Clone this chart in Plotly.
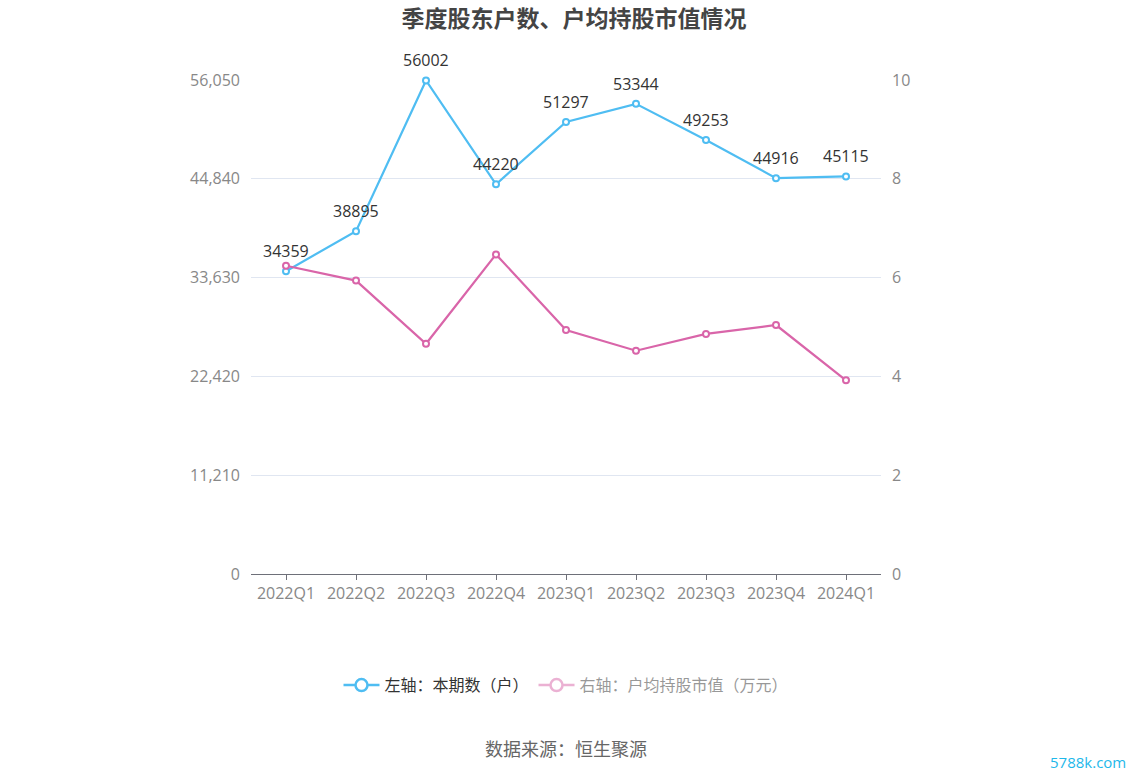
import plotly.graph_objects as go

quarters = ["2022Q1", "2022Q2", "2022Q3", "2022Q4", "2023Q1", "2023Q2", "2023Q3", "2023Q4", "2024Q1"]
holders = [34359, 38895, 56002, 44220, 51297, 53344, 49253, 44916, 45115]
avg_value = [6.24, 5.94, 4.66, 6.47, 4.94, 4.52, 4.86, 5.04, 3.92]
left_ticks = [0, 11210, 22420, 33630, 44840, 56050]
right_ticks = [0, 2, 4, 6, 8, 10]

BLUE = "#4fbdf2"
PINK = "#d965a9"
FONT = "Open Sans, Noto Sans CJK SC, sans-serif"
CJK = "Noto Sans CJK SC, sans-serif"

fig = go.Figure()

fig.add_trace(go.Scatter(
    x=quarters, y=holders, mode="lines+markers",
    line=dict(color=BLUE, width=2.2),
    marker=dict(size=6, color="white", line=dict(color=BLUE, width=2)),
    showlegend=False, yaxis="y", cliponaxis=False,
))
fig.add_trace(go.Scatter(
    x=quarters, y=avg_value, mode="lines+markers",
    line=dict(color=PINK, width=2.2),
    marker=dict(size=6, color="white", line=dict(color=PINK, width=2)),
    showlegend=False, yaxis="y2", cliponaxis=False,
))
# legend entries
fig.add_trace(go.Scatter(
    x=[None], y=[None], mode="lines+markers", name="左轴：本期数（户）",
    line=dict(color=BLUE, width=2.5),
    marker=dict(size=12, color="white", line=dict(color=BLUE, width=2.5)),
))
fig.add_trace(go.Scatter(
    x=[None], y=[None], mode="lines+markers", name="右轴：户均持股市值（万元）",
    line=dict(color=PINK, width=2.5),
    marker=dict(size=12, color="white", line=dict(color=PINK, width=2.5)),
    visible="legendonly", yaxis="y2",
))

for q, v in zip(quarters, holders):
    fig.add_annotation(x=q, y=v, xref="x", yref="y", text=str(v), showarrow=False,
                       yanchor="bottom", yshift=7,
                       font=dict(size=16, color="#333333", family=FONT))

fig.update_layout(
    width=1148, height=776,
    margin=dict(l=251, r=267, t=80, b=202),
    paper_bgcolor="white", plot_bgcolor="white",
    font=dict(family=FONT, color="#333333"),
    title=dict(text="<b>季度股东户数、户均持股市值情况</b>", x=0.5, xanchor="center",
               y=(776 - 19) / 776, yanchor="middle",
               font=dict(size=23, color="#444444", family=CJK)),
    xaxis=dict(
        type="category", range=[-0.5, 8.5], showgrid=False,
        showline=True, linecolor="#6e7079", linewidth=1,
        ticks="outside", ticklen=5, tickcolor="#6e7079",
        tickfont=dict(size=16, color="#888888", family=FONT),
        fixedrange=True,
    ),
    yaxis=dict(
        range=[0, 56050], tickvals=left_ticks,
        ticktext=[f"{v:,}" for v in left_ticks],
        showgrid=True, gridcolor="#e0e6f1", gridwidth=1,
        zeroline=False, showline=False, ticks="",
        tickfont=dict(size=16, color="#888888", family=FONT),
        ticklabelstandoff=10,
    ),
    yaxis2=dict(
        range=[0, 10], tickvals=right_ticks, overlaying="y", side="right",
        showgrid=False, zeroline=False, showline=False, ticks="",
        tickfont=dict(size=16, color="#888888", family=FONT),
        ticklabelstandoff=10,
    ),
    legend=dict(orientation="h", x=0.5, xanchor="center", y=-0.225, yanchor="middle",
                font=dict(size=16, color="#333333", family=CJK),
                itemclick=False, itemdoubleclick=False, itemwidth=36),
)

fig.add_annotation(text="数据来源：恒生聚源", x=0.5, xref="paper", y=-0.352, yref="paper",
                   showarrow=False, xanchor="center", yanchor="middle",
                   font=dict(size=18, color="#666666", family=CJK))
fig.add_annotation(text="5788k.com", xref="paper", yref="paper",
                   x=(1088 - 251) / (1148 - 251 - 267), y=-(762 - 574) / 494,
                   showarrow=False, xanchor="center", yanchor="middle",
                   font=dict(size=15, color="#1eb8ea", family=FONT))

fig.write_html("out.html")
